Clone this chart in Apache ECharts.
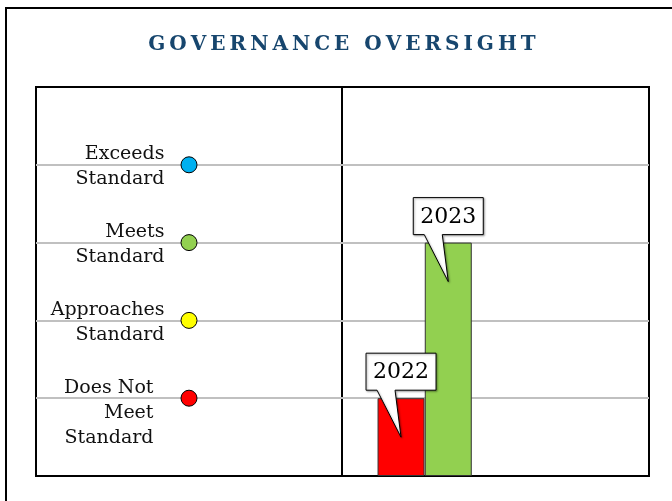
<!DOCTYPE html>
<html>
<head>
<meta charset="utf-8">
<script src="https://cdn.jsdelivr.net/npm/echarts@6/dist/echarts.min.js"></script>
<style>
  html, body { margin: 0; padding: 0; background: #fff; }
  #main { width: 672px; height: 501px; }
</style>
</head>
<body>
<div id="main"></div>
<script>
// performance levels shown on the left panel
var levelNames = ['Does Not\nMeet\nStandard', 'Approaches\nStandard', 'Meets\nStandard', 'Exceeds\nStandard'];
var levelScores = [1, 2, 3, 4];
var levelColors = ['#ff0000', '#ffff00', '#92d050', '#00b0f0'];

// yearly results on the right panel
var years = ['2022', '2023'];
var yearScores = [1, 3];
var yearSlots = [1.25, 2.25];
var yearColors = ['#ff0000', '#92d050'];

var titleText = 'GOVERNANCE OVERSIGHT';

var serif = '"DejaVu Serif", "Liberation Serif", serif';

var myChart = echarts.init(document.getElementById('main'));

// spread the title letters out (no letter-spacing in canvas text)
var spacedTitle = titleText.split(' ').map(function (w) {
    return w.split('').join('\u2009');
}).join('\u2009 \u2009');

var levelData = [];
for (var i = 0; i < levelNames.length; i++) {
    var item = {
        name: levelNames[i],
        value: [0, levelScores[i]],
        itemStyle: { color: levelColors[i] }
    };
    if (levelNames[i].split('\n').length > 2) {
        item.label = { offset: [-11, -23] };
    }
    levelData.push(item);
}

var barData = [];
var calloutData = [];
for (var j = 0; j < years.length; j++) {
    barData.push({
        value: [yearSlots[j], yearScores[j]],
        itemStyle: { color: yearColors[j] }
    });
    calloutData.push([yearSlots[j], yearScores[j], years[j]]);
}

// speech bubble above each bar, pointer going into the bar
function renderCallout(params, api) {
    var p = api.coord([api.value(0), api.value(1)]);
    var cx = p[0], ty = p[1];
    var L = cx - 35, R = cx + 35, T = ty - 45, B = ty - 8;
    return {
        type: 'group',
        children: [{
            type: 'polygon',
            shape: { points: [[L, T], [R, T], [R, B], [cx - 6, B], [cx, ty + 39], [cx - 24, B], [L, B]] },
            style: {
                fill: '#fff', stroke: '#000', lineWidth: 1,
                shadowBlur: 2, shadowOffsetX: 1, shadowOffsetY: 1, shadowColor: 'rgba(0,0,0,0.35)'
            }
        }, {
            type: 'text',
            style: {
                text: calloutData[params.dataIndex][2],
                x: cx, y: (T + B) / 2 + 1,
                align: 'center', verticalAlign: 'middle',
                font: '22px ' + serif, fill: '#000'
            }
        }]
    };
}

var yAxisBase = {
    type: 'value', min: 0, max: 5, interval: 1,
    axisLine: { show: false }, axisTick: { show: false }, axisLabel: { show: false },
    splitLine: { show: true, showMinLine: false, showMaxLine: false, lineStyle: { color: '#c0c0c0', width: 2 } }
};

var option = {
    animation: false,
    backgroundColor: '#fff',
    title: {
        text: spacedTitle,
        left: 337, top: 30, textAlign: 'center',
        textStyle: { fontFamily: serif, fontWeight: 'bold', fontSize: 20, color: '#17466e' }
    },
    graphic: [{
        type: 'rect',
        shape: { x: 6, y: 8, width: 720, height: 540 },
        style: { fill: null, stroke: '#000', lineWidth: 2 },
        z: 100
    }],
    grid: [
        { left: 36, right: 330, top: 87, bottom: 25, show: true, borderColor: '#000', borderWidth: 2, backgroundColor: 'transparent' },
        { left: 342, right: 23, top: 87, bottom: 25, show: true, borderColor: '#000', borderWidth: 2, backgroundColor: 'transparent' }
    ],
    xAxis: [
        { type: 'category', gridIndex: 0, data: ['level'], show: false },
        { type: 'value', gridIndex: 1, min: 0, max: 6.5, show: false, splitLine: { show: false } }
    ],
    yAxis: [
        echarts.util.merge({ gridIndex: 0 }, yAxisBase, true),
        echarts.util.merge({ gridIndex: 1 }, yAxisBase, true)
    ],
    series: [{
        type: 'scatter',
        xAxisIndex: 0, yAxisIndex: 0,
        symbolSize: 16,
        itemStyle: { borderColor: '#000', borderWidth: 1, opacity: 1 },
        label: {
            show: true, position: 'left', distance: 16,
            formatter: '{b}', align: 'right', verticalAlign: 'top',
            offset: [0, -23], lineHeight: 25,
            fontFamily: serif, fontSize: 19, color: '#111'
        },
        data: levelData
    }, {
        type: 'bar',
        xAxisIndex: 1, yAxisIndex: 1,
        barWidth: 47,
        itemStyle: { borderColor: '#333', borderWidth: 1 },
        data: barData
    }, {
        type: 'custom',
        xAxisIndex: 1, yAxisIndex: 1,
        renderItem: renderCallout,
        encode: { x: 0, y: 1 },
        z: 10,
        data: calloutData
    }]
};

myChart.setOption(option);
</script>
</body>
</html>
